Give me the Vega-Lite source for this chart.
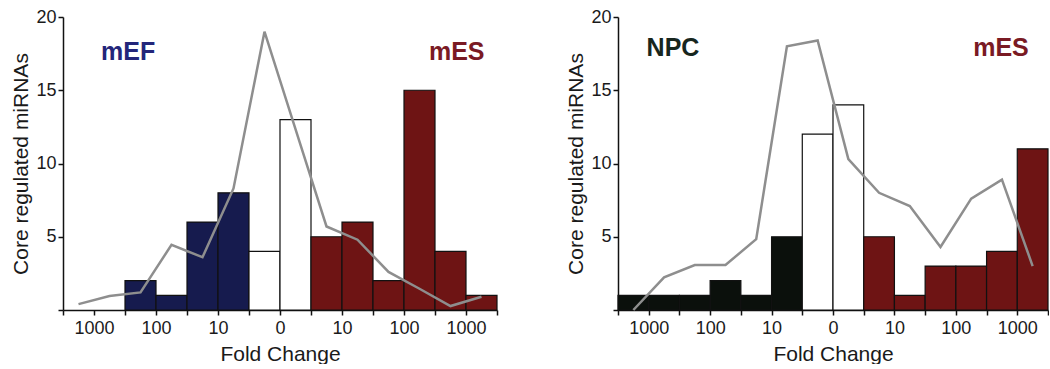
{
  "$schema": "https://vega.github.io/schema/vega-lite/v6.json",
  "padding": {"left": 10, "top": 8, "right": 0, "bottom": 0},
  "background": "white",
  "spacing": 67,
  "config": {
    "font": "Liberation Sans",
    "view": {"stroke": null},
    "axis": {
      "domainColor": "#111111",
      "domainWidth": 1.5,
      "tickColor": "#111111",
      "tickWidth": 1.5,
      "tickSize": 5,
      "grid": false,
      "labelFont": "Liberation Sans",
      "labelFontSize": 18,
      "labelColor": "#1a1a1a",
      "titleFont": "Liberation Sans",
      "titleFontSize": 21,
      "titleFontWeight": "normal",
      "titleColor": "#1a1a1a"
    }
  },
  "datasets": {
    "leftBars": [
      {"b0": 2, "b1": 3, "count": 2, "group": "mEF"},
      {"b0": 3, "b1": 4, "count": 1, "group": "mEF"},
      {"b0": 4, "b1": 5, "count": 6, "group": "mEF"},
      {"b0": 5, "b1": 6, "count": 8, "group": "mEF"},
      {"b0": 6, "b1": 7, "count": 4, "group": "none"},
      {"b0": 7, "b1": 8, "count": 13, "group": "none"},
      {"b0": 8, "b1": 9, "count": 5, "group": "mES"},
      {"b0": 9, "b1": 10, "count": 6, "group": "mES"},
      {"b0": 10, "b1": 11, "count": 2, "group": "mES"},
      {"b0": 11, "b1": 12, "count": 15, "group": "mES"},
      {"b0": 12, "b1": 13, "count": 4, "group": "mES"},
      {"b0": 13, "b1": 14, "count": 1, "group": "mES"}
    ],
    "leftLine": [
      {"bin": 0.5, "value": 0.4},
      {"bin": 1.5, "value": 0.95},
      {"bin": 2.5, "value": 1.2},
      {"bin": 3.5, "value": 4.45},
      {"bin": 4.5, "value": 3.6},
      {"bin": 5.5, "value": 8.3},
      {"bin": 6.5, "value": 19.0},
      {"bin": 7.5, "value": 12.35},
      {"bin": 8.5, "value": 5.7},
      {"bin": 9.5, "value": 4.8},
      {"bin": 10.5, "value": 2.6},
      {"bin": 11.5, "value": 1.45},
      {"bin": 12.5, "value": 0.27},
      {"bin": 13.5, "value": 0.9}
    ],
    "leftLabels": [
      {"bin": 2.1, "value": 17.6, "label": "mEF", "group": "mEF"},
      {"bin": 12.7, "value": 17.6, "label": "mES", "group": "mES"}
    ],
    "rightBars": [
      {"b0": 0, "b1": 1, "count": 1, "group": "NPC"},
      {"b0": 1, "b1": 2, "count": 1, "group": "NPC"},
      {"b0": 2, "b1": 3, "count": 1, "group": "NPC"},
      {"b0": 3, "b1": 4, "count": 2, "group": "NPC"},
      {"b0": 4, "b1": 5, "count": 1, "group": "NPC"},
      {"b0": 5, "b1": 6, "count": 5, "group": "NPC"},
      {"b0": 6, "b1": 7, "count": 12, "group": "none"},
      {"b0": 7, "b1": 8, "count": 14, "group": "none"},
      {"b0": 8, "b1": 9, "count": 5, "group": "mES"},
      {"b0": 9, "b1": 10, "count": 1, "group": "mES"},
      {"b0": 10, "b1": 11, "count": 3, "group": "mES"},
      {"b0": 11, "b1": 12, "count": 3, "group": "mES"},
      {"b0": 12, "b1": 13, "count": 4, "group": "mES"},
      {"b0": 13, "b1": 14, "count": 11, "group": "mES"}
    ],
    "rightLine": [
      {"bin": 0.5, "value": 0.0},
      {"bin": 1.5, "value": 2.23},
      {"bin": 2.5, "value": 3.07},
      {"bin": 3.5, "value": 3.07},
      {"bin": 4.5, "value": 4.84},
      {"bin": 5.5, "value": 18.0},
      {"bin": 6.5, "value": 18.4},
      {"bin": 7.5, "value": 10.3},
      {"bin": 8.5, "value": 8.0},
      {"bin": 9.5, "value": 7.1},
      {"bin": 10.5, "value": 4.3},
      {"bin": 11.5, "value": 7.6},
      {"bin": 12.5, "value": 8.9},
      {"bin": 13.5, "value": 3.0}
    ],
    "rightLabels": [
      {"bin": 1.79, "value": 17.9, "label": "NPC", "group": "NPC"},
      {"bin": 12.47, "value": 17.9, "label": "mES", "group": "mES"}
    ]
  },
  "hconcat": [
    {
      "width": 434,
      "height": 293,
      "resolve": {"axis": {"x": "independent"}},
      "layer": [
        {
          "data": {"name": "leftBars"},
          "mark": {"type": "bar", "stroke": "#111111", "strokeWidth": 1.2},
          "encoding": {
            "x": {"field": "b0", "type": "quantitative",
                  "scale": {"domain": [0, 14], "nice": false, "zero": false},
                  "axis": {"values": [1,3,5,7,9,11,13], "orient": "bottom",
                           "labelExpr": "(datum.value == 1 || datum.value == 13) ? '1000' : (datum.value == 3 || datum.value == 11) ? '100' : (datum.value == 5 || datum.value == 9) ? '10' : '0'",
                           "labelOverlap": false,
                           "labelPadding": 4, "titlePadding": 6,
                           "title": "Fold Change"}},
            "x2": {"field": "b1"},
            "y": {"field": "count", "type": "quantitative",
                  "scale": {"domain": [0, 20], "nice": false},
                  "axis": {"values": [0, 5, 10, 15, 20],
                           "labelExpr": "datum.value == 0 ? '' : datum.label",
                           "labelPadding": 2, "titlePadding": 4,
                           "title": "Core regulated miRNAs"}},
            "y2": {"datum": 0},
            "fill": {"field": "group", "type": "nominal", "legend": null,
                     "scale": {"domain": ["mEF", "none", "mES", "NPC"],
                               "range": ["#161b4e", "#ffffff", "#6e1414", "#0b100c"]}}
          }
        },
        {
          "data": {"name": "leftLine"},
          "mark": {"type": "line", "color": "#8e8e8e", "strokeWidth": 2.5},
          "encoding": {
            "x": {"field": "bin", "type": "quantitative",
                  "axis": {"values": [0,2,4,6,8,10,12,14], "orient": "bottom", "labels": false, "domain": false, "title": null}},
            "y": {"field": "value", "type": "quantitative"}
          }
        },
        {
          "data": {"name": "leftLabels"},
          "mark": {"type": "text", "fontWeight": "bold", "fontSize": 25, "baseline": "middle", "align": "center", "font": "Liberation Sans"},
          "encoding": {
            "x": {"field": "bin", "type": "quantitative", "axis": null},
            "y": {"field": "value", "type": "quantitative"},
            "text": {"field": "label"},
            "color": {"field": "group", "type": "nominal", "legend": null,
                      "scale": {"domain": ["mEF", "mES", "NPC"], "range": ["#23267a", "#7a1a24", "#17261e"]}}
          }
        }
      ]
    },
    {
      "width": 430,
      "height": 293,
      "resolve": {"axis": {"x": "independent"}},
      "layer": [
        {
          "data": {"name": "rightBars"},
          "mark": {"type": "bar", "stroke": "#111111", "strokeWidth": 1.2},
          "encoding": {
            "x": {"field": "b0", "type": "quantitative",
                  "scale": {"domain": [0, 14], "nice": false, "zero": false},
                  "axis": {"values": [1,3,5,7,9,11,13], "orient": "bottom",
                           "labelExpr": "(datum.value == 1 || datum.value == 13) ? '1000' : (datum.value == 3 || datum.value == 11) ? '100' : (datum.value == 5 || datum.value == 9) ? '10' : '0'",
                           "labelOverlap": false,
                           "labelPadding": 4, "titlePadding": 6,
                           "title": "Fold Change"}},
            "x2": {"field": "b1"},
            "y": {"field": "count", "type": "quantitative",
                  "scale": {"domain": [0, 20], "nice": false},
                  "axis": {"values": [0, 5, 10, 15, 20],
                           "labelExpr": "datum.value == 0 ? '' : datum.label",
                           "labelPadding": 2, "titlePadding": 4,
                           "title": "Core regulated miRNAs"}},
            "y2": {"datum": 0},
            "fill": {"field": "group", "type": "nominal", "legend": null,
                     "scale": {"domain": ["mEF", "none", "mES", "NPC"],
                               "range": ["#161b4e", "#ffffff", "#6e1414", "#0b100c"]}}
          }
        },
        {
          "data": {"name": "rightLine"},
          "mark": {"type": "line", "color": "#8e8e8e", "strokeWidth": 2.5},
          "encoding": {
            "x": {"field": "bin", "type": "quantitative",
                  "axis": {"values": [0,2,4,6,8,10,12,14], "orient": "bottom", "labels": false, "domain": false, "title": null}},
            "y": {"field": "value", "type": "quantitative"}
          }
        },
        {
          "data": {"name": "rightLabels"},
          "mark": {"type": "text", "fontWeight": "bold", "fontSize": 25, "baseline": "middle", "align": "center", "font": "Liberation Sans"},
          "encoding": {
            "x": {"field": "bin", "type": "quantitative", "axis": null},
            "y": {"field": "value", "type": "quantitative"},
            "text": {"field": "label"},
            "color": {"field": "group", "type": "nominal", "legend": null,
                      "scale": {"domain": ["mEF", "mES", "NPC"], "range": ["#23267a", "#7a1a24", "#17261e"]}}
          }
        }
      ]
    }
  ]
}
